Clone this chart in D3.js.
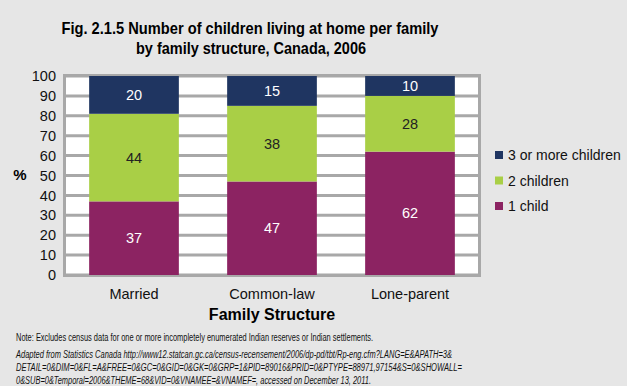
<!DOCTYPE html>
<html>
<head>
<meta charset="utf-8">
<script src="https://cdn.jsdelivr.net/npm/d3@7"></script>
<style>
body { margin: 0; background: #e6e6e6; }
svg { display: block; font-family: "Liberation Sans", Arial, sans-serif; }
</style>
</head>
<body>
<div id="chart"></div>
<script>
var families = ["Married", "Common-law", "Lone-parent"];
var series = ["1 child", "2 children", "3 or more children"];
var oneChild = [37, 47, 62];
var twoChildren = [44, 38, 28];
var threePlus = [20, 15, 10];
var yTicks = [0, 10, 20, 30, 40, 50, 60, 70, 80, 90, 100];

var colors = { "1 child": "#8c2362", "2 children": "#a9cf46", "3 or more children": "#1f3561" };
var labelColors = { "1 child": "#ffffff", "2 children": "#222222", "3 or more children": "#ffffff" };
var gridC = "#a8a8a8";

var svg = d3.select("#chart")
    .append("svg")
    .attr("width", 627)
    .attr("height", 386);

svg.append("rect").attr("width", 627).attr("height", 386).attr("fill", "#e6e6e6");

// titles
svg.append("text")
    .attr("x", 250).attr("y", 34)
    .attr("text-anchor", "middle")
    .attr("font-size", "17px").attr("font-weight", "bold")
    .attr("textLength", 377).attr("lengthAdjust", "spacingAndGlyphs")
    .text("Fig. 2.1.5  Number of children living at home per family");
svg.append("text")
    .attr("x", 251).attr("y", 54)
    .attr("text-anchor", "middle")
    .attr("font-size", "17px").attr("font-weight", "bold")
    .attr("textLength", 230).attr("lengthAdjust", "spacingAndGlyphs")
    .text("by family structure, Canada, 2006");

var plotL = 65, plotR = 479, plotT = 76, plotB = 275;

var x = d3.scaleBand().domain(families).range([plotL, plotR]).paddingInner(0.35).paddingOuter(0.175);
var y = d3.scaleLinear().domain([0, 100]).range([plotB, plotT]);

// plot background
svg.append("rect")
    .attr("x", plotL).attr("y", plotT)
    .attr("width", plotR - plotL).attr("height", plotB - plotT)
    .attr("fill", "#ffffff");

// grid lines
svg.append("g").selectAll("line")
    .data(yTicks)
    .enter().append("line")
    .attr("x1", plotL).attr("x2", plotR)
    .attr("y1", function (d) { return y(d); })
    .attr("y2", function (d) { return y(d); })
    .attr("stroke", gridC).attr("stroke-width", 3);

// frame
svg.append("rect")
    .attr("x", plotL - 0.5).attr("y", plotT - 0.5)
    .attr("width", plotR - plotL + 1).attr("height", plotB - plotT + 1)
    .attr("fill", "none").attr("stroke", gridC).attr("stroke-width", 3);

// y axis labels
var yAxis = d3.axisLeft(y).tickValues(yTicks).tickSize(0).tickPadding(8);
var gy = svg.append("g").attr("transform", "translate(" + (plotL - 1) + ",0)").call(yAxis);
gy.select(".domain").remove();
gy.selectAll("text").attr("font-size", "14.5px").attr("fill", "#111").attr("font-family", "Liberation Sans, Arial, sans-serif");

svg.append("text")
    .attr("x", 20).attr("y", 180)
    .attr("text-anchor", "middle")
    .attr("font-size", "15px").attr("font-weight", "bold")
    .text("%");

// stack data
var rows = families.map(function (f, i) {
    return { family: f, "1 child": oneChild[i], "2 children": twoChildren[i], "3 or more children": threePlus[i] };
});
var stacked = d3.stack().keys(series)(rows);

stacked.forEach(function (layer) {
    var g = svg.append("g");
    g.selectAll("rect")
        .data(layer)
        .enter().append("rect")
        .attr("x", function (d) { return x(d.data.family); })
        .attr("width", x.bandwidth())
        .attr("y", function (d) { return y(Math.min(d[1], 100)); })
        .attr("height", function (d) { return y(d[0]) - y(Math.min(d[1], 100)); })
        .attr("fill", colors[layer.key]);
    g.selectAll("text")
        .data(layer)
        .enter().append("text")
        .attr("x", function (d) { return x(d.data.family) + x.bandwidth() / 2; })
        .attr("y", function (d) { return (y(d[0]) + y(Math.min(d[1], 100))) / 2 + 5; })
        .attr("text-anchor", "middle")
        .attr("font-size", "14.5px")
        .attr("fill", labelColors[layer.key])
        .text(function (d) { return d.data[layer.key]; });
});

// x axis labels
var xAxis = d3.axisBottom(x).tickSize(0).tickPadding(14);
var gx = svg.append("g").attr("transform", "translate(0," + plotB + ")").call(xAxis);
gx.select(".domain").remove();
gx.selectAll("text").attr("font-size", "14.5px").attr("fill", "#111").attr("font-family", "Liberation Sans, Arial, sans-serif");

svg.append("text")
    .attr("x", 272).attr("y", 320)
    .attr("text-anchor", "middle")
    .attr("font-size", "16px").attr("font-weight", "bold")
    .text("Family Structure");

// legend
var legendOrder = ["3 or more children", "2 children", "1 child"];
var lg = svg.append("g").selectAll("g")
    .data(legendOrder)
    .enter().append("g")
    .attr("transform", function (d, i) { return "translate(495," + (151 + i * 25.5) + ")"; });
lg.append("rect").attr("width", 8).attr("height", 8).attr("fill", function (d) { return colors[d]; });
lg.append("text")
    .attr("x", 13).attr("y", 9)
    .attr("font-size", "14px").attr("fill", "#111")
    .text(function (d) { return d; });

// notes
svg.append("text")
    .attr("x", 16).attr("y", 341)
    .attr("font-size", "10px").attr("fill", "#111")
    .attr("textLength", 357).attr("lengthAdjust", "spacingAndGlyphs")
    .text("Note: Excludes census data for one or more incompletely enumerated Indian reserves or Indian settlements.");
var src = [
    "Adapted from Statistics Canada http://www12.statcan.gc.ca/census-recensement/2006/dp-pd/tbt/Rp-eng.cfm?LANG=E&APATH=3&",
    "DETAIL=0&DIM=0&FL=A&FREE=0&GC=0&GID=0&GK=0&GRP=1&PID=89016&PRID=0&PTYPE=88971,97154&S=0&SHOWALL=",
    "0&SUB=0&Temporal=2006&THEME=68&VID=0&VNAMEE=&VNAMEF=,  accessed on December 13, 2011."
];
var srcLen = [436, 446, 355];
svg.append("g").selectAll("text")
    .data(src)
    .enter().append("text")
    .attr("x", 16)
    .attr("y", function (d, i) { return 358 + i * 13; })
    .attr("font-size", "10px").attr("font-style", "italic").attr("fill", "#111")
    .attr("textLength", function (d, i) { return srcLen[i]; })
    .attr("lengthAdjust", "spacingAndGlyphs")
    .text(function (d) { return d; });
</script>
</body>
</html>
